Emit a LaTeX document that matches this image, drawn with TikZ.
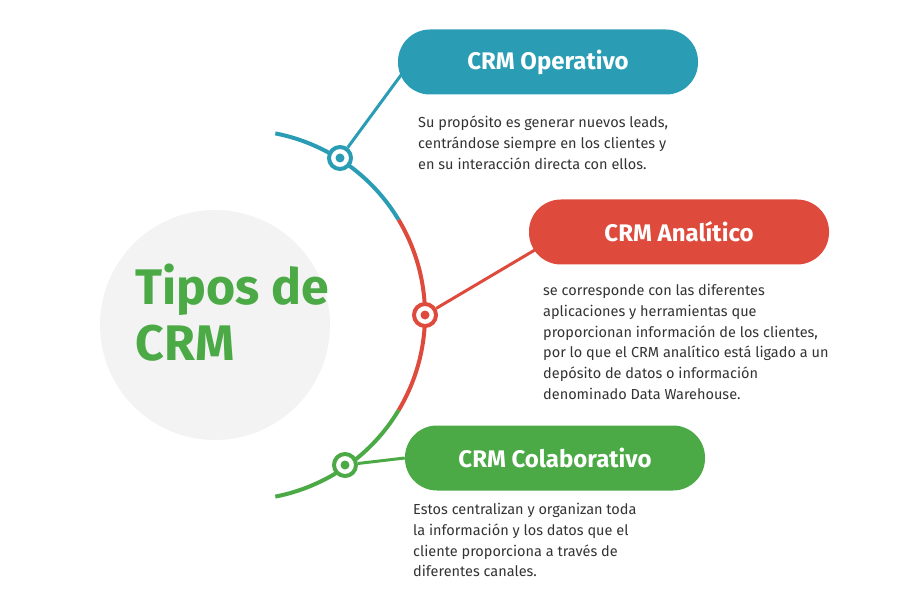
\documentclass[tikz,border=0pt]{standalone}
\usepackage{fontspec}
\setmainfont{Fira Sans}
\usetikzlibrary{positioning,calc}
\definecolor{opblue}{HTML}{2A9DB5}
\definecolor{anred}{HTML}{DE4B3C}
\definecolor{cogreen}{HTML}{4BAA46}
\definecolor{txtgray}{HTML}{333333}
\definecolor{bggray}{HTML}{F3F3F3}
\tikzset{
  pill/.style={rounded corners=32pt, minimum width=300pt, minimum height=65pt,
    text=white, font=\fontsize{24}{28}\selectfont\bfseries},
  desc/.style={anchor=north west, align=left, inner sep=0pt, text=txtgray,
    font=\fontsize{14.5}{20.8}\selectfont\medseries},
  ring/.style={circle, draw=#1, line width=4pt, fill=white, minimum size=22pt, inner sep=0pt},
  dot/.style={circle, fill=#1, minimum size=9pt, inner sep=0pt},
  arcline/.style={line width=4pt}
}
\providecommand{\medseries}{\fontseries{m}\selectfont}
\begin{document}
\begin{tikzpicture}[x=1pt,y=-1pt]
  \useasboundingbox (0,0) rectangle (901,601);
  % background circle and title
  \fill[bggray] (215,325) circle (115);
  \node[anchor=west, align=left, text=cogreen, font=\fontsize{50}{56}\selectfont\bfseries] (title) at (132,313) {Tipos de\\CRM};
  % main arc
  \coordinate (ctr) at (240,315);
  \draw[arcline, opblue] ($(ctr)+(-79:185)$) arc[start angle=-79, end angle=-31, radius=185];
  \draw[arcline, anred] ($(ctr)+(-31:185)$) arc[start angle=-31, end angle=31, radius=185];
  \draw[arcline, cogreen] ($(ctr)+(31:185)$) arc[start angle=31, end angle=79, radius=185];
  % boxes
  \node[pill, fill=opblue] (op) at (548,62) {CRM Operativo};
  \node[pill, fill=anred] (an) at (679,232) {CRM Analítico};
  \node[pill, fill=cogreen] (co) at (555,458) {CRM Colaborativo};
  % markers
  \node[ring=opblue] (mop) at (340,158) {};
  \node[ring=anred] (man) at (425,315) {};
  \node[ring=cogreen] (mco) at (345,465) {};
  \draw[opblue, line width=3pt] (mop) -- ($(op.west)+(4,12)$);
  \draw[anred, line width=3pt] (man) -- ($(an.west)+(6,18)$);
  \draw[cogreen, line width=3pt] (mco) -- (co.west);
  \node[dot=opblue] at (mop) {};
  \node[dot=anred] at (man) {};
  \node[dot=cogreen] at (mco) {};
  % descriptions
  \node[desc] (dop) at (418,116) {Su propósito es generar nuevos leads,\\centrándose siempre en los clientes y\\en su interacción directa con ellos.};
  \node[desc] (dan) at (543,284) {se corresponde con las diferentes\\aplicaciones y herramientas que\\proporcionan información de los clientes,\\por lo que el CRM analítico está ligado a un\\depósito de datos o información\\denominado Data Warehouse.};
  \node[desc] (dco) at (413,503) {Estos centralizan y organizan toda\\la información y los datos que el\\cliente proporciona a través de\\diferentes canales.};
\end{tikzpicture}
\end{document}
